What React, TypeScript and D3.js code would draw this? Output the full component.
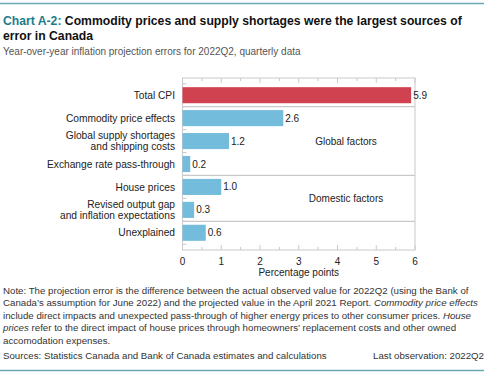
import React from 'react';
import * as d3 from 'd3';

// Chart values
const categories = [
  'Total CPI',
  'Commodity price effects',
  'Global supply shortages\nand shipping costs',
  'Exchange rate pass-through',
  'House prices',
  'Revised output gap\nand inflation expectations',
  'Unexplained',
];
const values = [5.9, 2.6, 1.2, 0.2, 1.0, 0.3, 0.6];
const xTicks = [0, 1, 2, 3, 4, 5, 6];
// band index after which a full-width separator is drawn
const separatorsAfter = [0, 3, 5];
const groupLabels = [
  { text: 'Global factors', from: 1, to: 3 },
  { text: 'Domestic factors', from: 4, to: 5 },
];

const W = 493;
const H = 373;
const FONT = '"Liberation Sans", Arial, sans-serif';
const TEAL = '#1d7c8a';
const RULE = '#6ba9b0';
const AXIS = '#c9c9c9';
const RED = '#d0424f';
const BLUE = '#74bcdc';
const TEXT = '#222';

const noteLines: { text: string; italic?: boolean }[][] = [
  [{ text: 'Note: The projection error is the difference between the actual observed value for 2022Q2 (using the Bank of' }],
  [
    { text: 'Canada\u2019s assumption for June 2022) and the projected value in the April 2021 Report. ' },
    { text: 'Commodity price effects', italic: true },
  ],
  [
    { text: 'include direct impacts and unexpected pass-through of higher energy prices to other consumer prices. ' },
    { text: 'House', italic: true },
  ],
  [
    { text: 'prices', italic: true },
    { text: ' refer to the direct impact of house prices through homeowners\u2019 replacement costs and other owned' },
  ],
  [{ text: 'accomodation expenses.' }],
];

const App = () => {
  // scales
  const x = d3.scaleLinear().domain([0, 6]).range([182.5, 415]);
  const y = d3
    .scaleBand<string>()
    .domain(categories)
    .range([78, 250])
    .paddingInner(0.3)
    .paddingOuter(0.4);
  const bw = y.bandwidth();
  const step = y.step();
  const gap = step - bw;
  const [x0, x1] = x.range();
  const [y0, y1] = y.range();

  const minorTicks = d3.range(0.5, 6, 1);
  const boundary = (i: number) => (y(categories[i]) as number) + bw + gap / 2;
  const bandTicks = [
    (y(categories[0]) as number) - gap / 2,
    ...categories.map((_, i) => boundary(i)),
  ];

  return (
    <svg
      width={W}
      height={H}
      style={{ position: 'absolute', left: 0, top: 0, fontFamily: FONT }}
    >
      <rect width={W} height={H} fill="#fff" />
      {/* top rule and title */}
      <line x1={0} x2={484} y1={3.5} y2={3.5} stroke={RULE} strokeWidth={1.5} />
      <text x={3} y={25} fontSize={12.2} fontWeight="bold" fill="#111">
        <tspan fill={TEAL}>Chart A-2:</tspan>
        <tspan> Commodity prices and supply shortages were the largest sources of</tspan>
      </text>
      <text x={3} y={39.5} fontSize={12.2} fontWeight="bold" fill="#111">
        error in Canada
      </text>
      <text x={3} y={55} fontSize={10} fill="#555">
        Year-over-year inflation projection errors for 2022Q2, quarterly data
      </text>

      {/* frame */}
      <rect x={x0} y={y0} width={x1 - x0} height={y1 - y0} fill="none" stroke={AXIS} strokeWidth={1} />
      {xTicks.map((t) => (
        <g key={'t' + t}>
          <line x1={x(t)} x2={x(t)} y1={y0} y2={y0 + 5} stroke={AXIS} />
          <line x1={x(t)} x2={x(t)} y1={y1} y2={y1 - 5} stroke={AXIS} />
        </g>
      ))}
      {minorTicks.map((t) => (
        <g key={'m' + t}>
          <line x1={x(t)} x2={x(t)} y1={y0} y2={y0 + 3} stroke={AXIS} />
          <line x1={x(t)} x2={x(t)} y1={y1} y2={y1 - 3} stroke={AXIS} />
        </g>
      ))}
      {bandTicks.map((b, i) => (
        <line key={'b' + i} x1={x0} x2={x0 + 4} y1={b} y2={b} stroke={AXIS} />
      ))}
      {separatorsAfter.map((i) => (
        <line key={'s' + i} x1={x0} x2={x1} y1={boundary(i)} y2={boundary(i)} stroke={AXIS} strokeWidth={1.2} />
      ))}

      {/* bars */}
      {categories.map((c, i) => (
        <g key={c}>
          <rect
            x={x(0)}
            y={y(c)}
            width={x(values[i]) - x(0)}
            height={bw}
            fill={i === 0 ? RED : BLUE}
          />
          <text
            x={x(values[i]) + 2}
            y={(y(c) as number) + bw / 2}
            dy="0.35em"
            fontSize={10}
            fill={TEXT}
          >
            {values[i].toFixed(1)}
          </text>
        </g>
      ))}

      {/* category labels */}
      {categories.map((c) => {
        const lines = c.split('\n');
        const cy = (y(c) as number) + bw / 2;
        return (
          <text key={'l' + c} x={175} textAnchor="end" fontSize={10.2} fill={TEXT}>
            {lines.map((ln, j) => (
              <tspan key={j} x={175} y={cy + (j - (lines.length - 1) / 2) * 11} dy="0.35em">
                {ln}
              </tspan>
            ))}
          </text>
        );
      })}

      {/* group labels */}
      {groupLabels.map((g) => {
        const top = (y(categories[g.from]) as number);
        const bot = (y(categories[g.to]) as number) + bw;
        return (
          <text
            key={g.text}
            x={346}
            y={(top + bot) / 2}
            dy="0.35em"
            textAnchor="middle"
            fontSize={10}
            fill={TEXT}
          >
            {g.text}
          </text>
        );
      })}

      {/* x axis labels */}
      {xTicks.map((t) => (
        <text key={'xl' + t} x={x(t)} y={264.5} textAnchor="middle" fontSize={10} fill={TEXT}>
          {t}
        </text>
      ))}
      <text x={(x0 + x1) / 2} y={275.5} textAnchor="middle" fontSize={10} fill={TEXT}>
        Percentage points
      </text>

      {/* note */}
      {noteLines.map((ln, i) => (
        <text key={'n' + i} x={3} y={293.5 + i * 12.5} fontSize={9.7} fill="#333">
          {ln.map((s, j) => (
            <tspan key={j} fontStyle={s.italic ? 'italic' : 'normal'}>
              {s.text}
            </tspan>
          ))}
        </text>
      ))}
      <text x={3} y={358.5} fontSize={9.7} fill="#333">
        Sources: Statistics Canada and Bank of Canada estimates and calculations
      </text>
      <text x={484} y={358.5} textAnchor="end" fontSize={9.7} fill="#333">
        Last observation: 2022Q2
      </text>
      <line x1={0} x2={484} y1={370.5} y2={370.5} stroke={RULE} strokeWidth={1.5} />
    </svg>
  );
};

export default App;
